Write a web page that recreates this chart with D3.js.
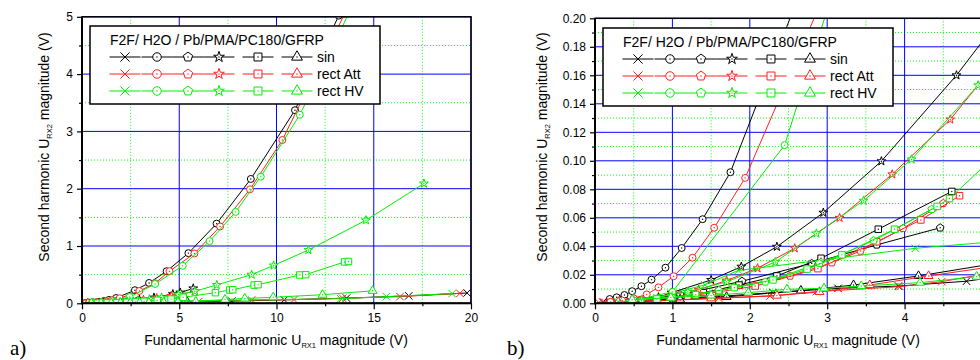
<!DOCTYPE html>
<html>
<head>
<meta charset="utf-8">
<script src="https://cdn.jsdelivr.net/npm/d3@7"></script>
<style>
body { margin: 0; background: #fff; }
svg { display: block; font-family: "Liberation Sans", Arial, sans-serif; }
</style>
</head>
<body>
<script>
// data: [U_RX1 (V), U_RX2 (V)]
// sin
const sinCross = [[0.1,0.0008],[0.3,0.001],[0.6,0.0018],[1.0,0.003],[1.6,0.0048],[2.3,0.0075],[3.14,0.0105],[3.92,0.0121],[4.8,0.0155],[7.7,0.038],[10.4,0.06],[13.6,0.09],[16.8,0.13],[19.8,0.18]];
const sinCircle = [[0.19,0.003],[0.28,0.0042],[0.38,0.0058],[0.48,0.0085],[0.60,0.012],[0.73,0.0166],[0.91,0.025],[1.12,0.0388],[1.39,0.059],[1.75,0.092],[2.72,0.228],[3.45,0.355],[4.35,0.56],[5.47,0.875],[6.92,1.39],[8.68,2.17],[10.95,3.37],[13.2,5.02]];
const sinPentagon = [[0.4,0.0015],[1.1,0.006],[1.9,0.0155],[2.8,0.028],[3.64,0.041],[4.46,0.053]];
const sinStar = [[0.5,0.0015],[0.82,0.0042],[0.99,0.0075],[1.50,0.0164],[1.89,0.0257],[2.35,0.0397],[2.95,0.0636],[3.70,0.0997],[4.67,0.160],[5.05,0.187],[5.72,0.26]];
const sinSquare = [[0.6,0.002],[1.0,0.004],[1.4,0.0075],[1.86,0.0128],[2.35,0.0192],[2.92,0.0316],[3.66,0.052],[4.61,0.0785]];
const sinTriangle = [[0.5,0.001],[1.1,0.0025],[1.7,0.0045],[2.66,0.0089],[3.34,0.0128],[4.18,0.0192],[5.4,0.03]];
// rect Att
const attCross = [[0.05,0.0005],[0.12,0.0009],[0.2,0.0006],[0.28,0.0012],[0.36,0.0008],[0.45,0.0014],[0.6,0.0015],[0.8,0.002],[1.0,0.0022],[1.6,0.0035],[2.26,0.0051],[2.86,0.0082],[3.94,0.0117],[4.48,0.0152],[6.0,0.03],[8.72,0.055],[10.9,0.065],[13.4,0.088],[16.35,0.116],[19.43,0.174]];
const attCircle = [[0.2,0.001],[0.35,0.002],[0.5,0.0035],[0.668,0.0062],[0.82,0.0112],[1.015,0.019],[1.26,0.032],[1.54,0.053],[1.94,0.088],[2.95,0.215],[3.75,0.35],[4.5,0.56],[5.78,0.87],[7.1,1.34],[8.64,1.99],[10.3,2.85],[13.5,5.05]];
const attPentagon = [[0.8,0.003],[1.6,0.009],[2.52,0.0192],[3.06,0.0285],[3.43,0.0367],[3.98,0.0526],[4.50,0.0702]];
const attStar = [[0.5,0.002],[1.01,0.0065],[1.34,0.0095],[1.7,0.016],[2.10,0.0246],[2.58,0.0386],[3.16,0.060],[3.84,0.0905],[4.59,0.129],[5.8,0.21]];
const attSquare = [[0.6,0.002],[1.2,0.005],[1.6,0.008],[2.07,0.0121],[2.88,0.0243],[3.64,0.0432],[4.21,0.0585],[4.71,0.0755]];
const attTriangle = [[0.3,0.001],[0.8,0.0018],[1.5,0.0035],[2.35,0.0054],[2.9,0.008],[3.55,0.0128],[4.31,0.0192],[5.3,0.027]];
// rect HV
const hvCross = [[0.3,0.001],[0.8,0.004],[1.42,0.013],[1.85,0.023],[4.14,0.0386],[13.3,0.08],[15.65,0.116],[19.03,0.17]];
const hvCircle = [[0.5,0.002],[1.0,0.008],[2.45,0.111],[3.76,0.337],[5.18,0.655],[6.56,1.085],[7.9,1.595],[9.19,2.21],[11.2,3.29],[13.7,5.05]];
const hvPentagon = [[1.0,0.004],[1.6,0.009],[2.2,0.015],[2.9,0.028],[3.6,0.044],[4.35,0.066]];
const hvStar = [[0.6,0.002],[1.2,0.008],[1.70,0.015],[2.33,0.029],[2.86,0.049],[3.47,0.072],[4.09,0.101],[4.95,0.153],[5.8,0.21],[6.93,0.32],[8.72,0.50],[9.85,0.66],[11.64,0.93],[14.6,1.45],[17.58,2.09]];
const hvSquare = [[0.8,0.003],[1.3,0.006],[1.8,0.011],[2.30,0.0164],[2.74,0.024],[3.19,0.034],[3.87,0.052],[4.42,0.068],[4.58,0.0735],[5.2,0.105],[6.86,0.186],[7.6,0.232],[7.75,0.237],[8.85,0.318],[9.05,0.325],[11.2,0.494],[11.5,0.50],[13.5,0.722],[13.7,0.73]];
const hvTriangle = [[0.48,0.0025],[0.98,0.004],[1.5,0.0055],[1.98,0.0075],[2.48,0.0098],[2.96,0.0105],[3.44,0.0121],[4.20,0.0145],[4.93,0.0187],[5.85,0.03],[7.35,0.065],[8.37,0.085],[9.83,0.105],[12.37,0.15],[14.94,0.218]];

const legendTitle = "F2F/ H2O / Pb/PMA/PC180/GFRP";
const groupNames = ["sin", "rect Att", "rect HV"];
const markerNames = ["cross", "circle", "pentagon", "star", "square", "triangle"];

const aXTicks = [0, 5, 10, 15, 20];
const aXMinor = [2.5, 7.5, 12.5, 17.5];
const aYTicks = [0, 1, 2, 3, 4, 5];
const aYMinor = [0.5, 1.5, 2.5, 3.5, 4.5];
const bXTicks = [0, 1, 2, 3, 4];
const bXMinor = [0.5, 1.5, 2.5, 3.5, 4.5];
const bYTicks = [0, 0.02, 0.04, 0.06, 0.08, 0.10, 0.12, 0.14, 0.16, 0.18, 0.20];
const bYMinor = [0.01, 0.03, 0.05, 0.07, 0.09, 0.11, 0.13, 0.15, 0.17, 0.19];

const groupColors = ["#000000", "#ff2020", "#00ee00"];

const seriesList = [
    [sinCross, sinCircle, sinPentagon, sinStar, sinSquare, sinTriangle],
    [attCross, attCircle, attPentagon, attStar, attSquare, attTriangle],
    [hvCross, hvCircle, hvPentagon, hvStar, hvSquare, hvTriangle]
].flatMap((group, g) => group.map((data, m) => ({ group: g, marker: markerNames[m], data: data })));

// custom symbols
const symbolPentagon = {
    draw(context, size) {
        const r = Math.sqrt(size / 2.378);
        for (let i = 0; i < 5; i++) {
            const a = -Math.PI / 2 + i * 2 * Math.PI / 5;
            if (i === 0) context.moveTo(r * Math.cos(a), r * Math.sin(a));
            else context.lineTo(r * Math.cos(a), r * Math.sin(a));
        }
        context.closePath();
    }
};
const symbolX = {
    draw(context, size) {
        const r = Math.sqrt(size) / 2;
        context.moveTo(-r, -r); context.lineTo(r, r);
        context.moveTo(r, -r); context.lineTo(-r, r);
    }
};
const markerTypes = {
    cross: [symbolX, 56],
    circle: [d3.symbolCircle, 38],
    pentagon: [symbolPentagon, 38],
    star: [d3.symbolStar, 24],
    square: [d3.symbolSquare, 42],
    triangle: [d3.symbolTriangle, 34]
};

const panels = [
    { id: "a", left: 82, right: 471, top: 16.8, bottom: 303.3, xDomain: [0, 20], yDomain: [0, 5],
      xTicks: aXTicks, xMinor: aXMinor, yTicks: aYTicks, yMinor: aYMinor, yFormat: d3.format("d"),
      legendX: 90, legendY: 26, tag: "a)", tagX: 10, yTitleX: 44, xTitleX: 276 },
    { id: "b", left: 595, right: 982, top: 18.3, bottom: 303.3, xDomain: [0, 5], yDomain: [0, 0.2],
      xTicks: bXTicks, xMinor: bXMinor, yTicks: bYTicks, yMinor: bYMinor, yFormat: d3.format(".2f"),
      legendX: 603, legendY: 28, tag: "b)", tagX: 507, yTitleX: 542, xTitleX: 788 }
];

window.addEventListener('load', () => {
    init();
}, false);

let width = 980;
let height = 360;

function init() {
    const svg = d3.select("body")
        .append("svg")
        .attr("width", width)
        .attr("height", height);
    panels.forEach(p => draw(svg, p));
}

function drawMarker(sel, marker, color, scale) {
    const [type, size] = markerTypes[marker];
    sel.append("path")
        .attr("d", d3.symbol().type(type).size(size * scale))
        .attr("fill", marker === "cross" ? "none" : "#fff")
        .attr("stroke", color)
        .attr("stroke-width", 1);
    if (marker !== "cross") {
        sel.append("circle").attr("r", 0.7).attr("fill", color);
    }
}

function draw(svg, p) {
    const xScale = d3.scaleLinear().domain(p.xDomain).range([p.left, p.right]);
    const yScale = d3.scaleLinear().domain(p.yDomain).range([p.bottom, p.top]);
    const g = svg.append("g");

    g.append("clipPath").attr("id", "clip-" + p.id)
        .append("rect")
        .attr("x", p.left).attr("y", p.top)
        .attr("width", p.right - p.left).attr("height", p.bottom - p.top);

    // grid
    const grid = g.append("g");
    grid.selectAll(".gx-minor").data(p.xMinor).join("line")
        .attr("x1", d => xScale(d)).attr("x2", d => xScale(d))
        .attr("y1", p.top).attr("y2", p.bottom)
        .attr("stroke", "#00ff00").attr("stroke-dasharray", "1,2");
    grid.selectAll(".gy-minor").data(p.yMinor).join("line")
        .attr("y1", d => yScale(d)).attr("y2", d => yScale(d))
        .attr("x1", p.left).attr("x2", p.right)
        .attr("stroke", "#00ff00").attr("stroke-dasharray", "1,2");
    grid.selectAll(".gx-major").data(p.xTicks.slice(1)).join("line")
        .attr("x1", d => xScale(d)).attr("x2", d => xScale(d))
        .attr("y1", p.top).attr("y2", p.bottom)
        .attr("stroke", "#0000ff");
    grid.selectAll(".gy-major").data(p.yTicks.slice(1)).join("line")
        .attr("y1", d => yScale(d)).attr("y2", d => yScale(d))
        .attr("x1", p.left).attr("x2", p.right)
        .attr("stroke", "#0000ff");

    // series
    const line = d3.line().x(d => xScale(d[0])).y(d => yScale(d[1]));
    const plot = g.append("g").attr("clip-path", "url(#clip-" + p.id + ")");
    seriesList.forEach(s => {
        const color = groupColors[s.group];
        plot.append("path")
            .datum(s.data)
            .attr("d", line)
            .attr("fill", "none")
            .attr("stroke", color)
            .attr("stroke-width", 1);
        plot.selectAll(null).data(s.data).join("g")
            .attr("transform", d => "translate(" + xScale(d[0]) + "," + yScale(d[1]) + ")")
            .each(function () { drawMarker(d3.select(this), s.marker, color, 1); });
    });

    // axes
    const xAxis = g.append("g")
        .attr("transform", "translate(0," + p.bottom + ")")
        .call(d3.axisBottom(xScale).tickValues(p.xTicks).tickSize(6).tickPadding(4).tickFormat(d3.format("d")));
    g.append("g")
        .attr("transform", "translate(0," + p.bottom + ")")
        .call(d3.axisBottom(xScale).tickValues(p.xMinor).tickSize(3).tickFormat(""));
    const yAxis = g.append("g")
        .attr("transform", "translate(" + p.left + ",0)")
        .call(d3.axisLeft(yScale).tickValues(p.yTicks).tickSize(5).tickPadding(4).tickFormat(p.yFormat));
    g.append("g")
        .attr("transform", "translate(" + p.left + ",0)")
        .call(d3.axisLeft(yScale).tickValues(p.yMinor).tickSize(3).tickFormat(""));
    g.selectAll(".domain").remove();
    g.selectAll(".tick line").attr("stroke", "#000").attr("stroke-width", 1.2);
    [xAxis, yAxis].forEach(a => a.selectAll("text")
        .attr("font-size", 12)
        .attr("font-family", "Liberation Sans, Arial, sans-serif")
        .attr("fill", "#000"));

    // frame
    g.append("rect")
        .attr("x", p.left).attr("y", p.top)
        .attr("width", p.right - p.left).attr("height", p.bottom - p.top)
        .attr("fill", "none").attr("stroke", "#000").attr("stroke-width", 1.5);
    g.append("path")
        .attr("d", "M" + p.left + "," + p.top + "V" + p.bottom + "H" + p.right)
        .attr("fill", "none").attr("stroke", "#000").attr("stroke-width", 2);

    // axis titles
    const xt = g.append("text")
        .attr("x", p.xTitleX).attr("y", 345)
        .attr("text-anchor", "middle").attr("font-size", 14);
    xt.append("tspan").text("Fundamental harmonic U");
    xt.append("tspan").attr("dy", 3).attr("font-size", 7.5).text("RX1");
    xt.append("tspan").attr("dy", -3).text(" magnitude (V)");

    const yt = g.append("text")
        .attr("transform", "translate(" + p.yTitleX + ",147) rotate(-90)")
        .attr("text-anchor", "middle").attr("dy", 5).attr("font-size", 14);
    yt.append("tspan").text("Second harmonic U");
    yt.append("tspan").attr("dy", 3).attr("font-size", 7.5).text("RX2");
    yt.append("tspan").attr("dy", -3).text(" magnitude (V)");

    g.append("text")
        .attr("x", p.tagX).attr("y", 355)
        .attr("font-family", "Liberation Serif, Times New Roman, serif")
        .attr("font-size", 21)
        .text(p.tag);

    // legend
    const lg = g.append("g").attr("transform", "translate(" + p.legendX + "," + p.legendY + ")");
    lg.append("rect")
        .attr("width", 290).attr("height", 78)
        .attr("fill", "#fff").attr("stroke", "#000").attr("stroke-width", 1.5);
    lg.append("text").attr("x", 20).attr("y", 19).attr("font-size", 14).text(legendTitle);
    const offsets = [35, 67, 98, 129, 168, 207];
    groupNames.forEach((name, gi) => {
        const row = lg.append("g").attr("transform", "translate(0," + (31 + gi * 17) + ")");
        const color = groupColors[gi];
        offsets.forEach((ox, mi) => {
            row.append("line")
                .attr("x1", ox - 15.5).attr("x2", ox + 15.5)
                .attr("stroke", color).attr("stroke-width", 1);
            const m = row.append("g").attr("transform", "translate(" + ox + ",0)");
            drawMarker(m, markerNames[mi], color, 1.5);
        });
        row.append("text").attr("x", 227).attr("y", 5).attr("font-size", 14).text(name);
    });
}
</script>
</body>
</html>
